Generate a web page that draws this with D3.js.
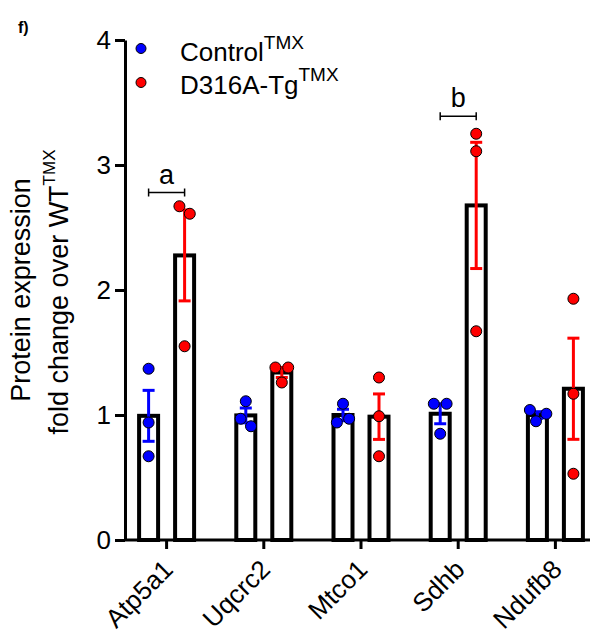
<!DOCTYPE html>
<html>
<head>
<meta charset="utf-8">
<script src="https://cdn.jsdelivr.net/npm/d3@7"></script>
<style>
  body { margin: 0; background: #fff; }
  svg { display: block; font-family: Arial, "Liberation Sans", sans-serif; }
</style>
</head>
<body>
<div id="chart"></div>
<script>
const categories = ['Atp5a1', 'Uqcrc2', 'Mtco1', 'Sdhb', 'Ndufb8'];
const groups = ['Control', 'D316A-Tg'];
const groupColors = ['#0000ff', '#ff0000'];

// individual replicates
const controlValues = [
  [1.37, 0.94, 0.67],
  [1.11, 0.97, 0.91],
  [1.09, 0.94, 0.97],
  [1.09, 1.09, 0.85],
  [1.04, 1.01, 0.95]
];
const tgValues = [
  [2.67, 2.61, 1.55],
  [1.38, 1.38, 1.26],
  [1.30, 0.99, 0.67],
  [3.25, 3.11, 1.67],
  [1.93, 1.17, 0.53]
];

const yTicks = [0, 1, 2, 3, 4];

const sigCategories = ['Atp5a1', 'Sdhb'];
const sigLabels = ['a', 'b'];
const sigLevels = [2.78, 3.39];

const width = 590;
const height = 637;
const axisX = 125;

const svg = d3.select('#chart')
  .append('svg')
  .attr('width', width)
  .attr('height', height);

const y = d3.scaleLinear().domain([0, 4]).range([540, 40]);
const x = d3.scaleBand().domain(categories).range([118, 604]);
const xg = d3.scaleBand().domain(groups).range([-36, 36]);
const centerX = (cat, group) => x(cat) + x.bandwidth() / 2 + xg(group) + xg.bandwidth() / 2;

const rows = categories.flatMap((cat, i) => [controlValues[i], tgValues[i]].map((values, g) => ({
  cat,
  group: groups[g],
  color: groupColors[g],
  values,
  mean: d3.mean(values),
  sem: d3.deviation(values) / Math.sqrt(values.length)
})));

// spread overlapping replicates sideways, like a scatter with dodge
function dodge(values, cx) {
  const nodes = values.map((v, i) => ({ v, x: cx + (i - 1) * 0.01, y: y(v), fy: y(v) }));
  d3.forceSimulation(nodes)
    .force('x', d3.forceX(cx).strength(0.08))
    .force('collide', d3.forceCollide(6.4))
    .stop()
    .tick(300);
  return nodes;
}

// bars
svg.append('g')
  .selectAll('rect')
  .data(rows)
  .join('rect')
  .attr('x', (d) => centerX(d.cat, d.group) - 9.5)
  .attr('width', 19)
  .attr('y', (d) => y(d.mean))
  .attr('height', (d) => y(0) - y(d.mean))
  .attr('fill', '#fff')
  .attr('stroke', '#000')
  .attr('stroke-width', 4);

// error bars (mean ± SEM)
const err = svg.append('g')
  .selectAll('g')
  .data(rows)
  .join('g')
  .attr('stroke', (d) => d.color)
  .attr('stroke-width', 3);

err.append('line')
  .attr('x1', (d) => centerX(d.cat, d.group))
  .attr('x2', (d) => centerX(d.cat, d.group))
  .attr('y1', (d) => y(d.mean + d.sem))
  .attr('y2', (d) => y(d.mean - d.sem));

[1, -1].forEach((sign) => {
  err.append('line')
    .attr('x1', (d) => centerX(d.cat, d.group) - 6)
    .attr('x2', (d) => centerX(d.cat, d.group) + 6)
    .attr('y1', (d) => y(d.mean + sign * d.sem))
    .attr('y2', (d) => y(d.mean + sign * d.sem));
});

// replicate points
const pointGroups = svg.append('g')
  .selectAll('g')
  .data(rows)
  .join('g')
  .attr('fill', (d) => d.color);

pointGroups.selectAll('circle')
  .data((d) => dodge(d.values, centerX(d.cat, d.group)))
  .join('circle')
  .attr('cx', (p) => p.x)
  .attr('cy', (p) => p.y)
  .attr('r', 5.5)
  .attr('stroke', '#000')
  .attr('stroke-width', 1);

// y axis
const yAxis = svg.append('g')
  .attr('transform', `translate(${axisX},0)`)
  .call(d3.axisLeft(y).tickValues(yTicks).tickFormat(d3.format('d')).tickSize(10).tickSizeOuter(0).tickPadding(4));

yAxis.select('.domain').attr('stroke-width', 3);
yAxis.selectAll('.tick line').attr('stroke-width', 3);
yAxis.selectAll('.tick text')
  .attr('font-size', 26)
  .attr('font-family', 'Arial, "Liberation Sans", sans-serif')
  .attr('fill', '#000');

// x axis
const xAxis = svg.append('g')
  .attr('transform', `translate(0,${y(0)})`)
  .call(d3.axisBottom(x).tickSize(9).tickSizeOuter(0).tickFormat(''));

xAxis.select('.domain').remove();
xAxis.selectAll('.tick line').attr('stroke-width', 3);
xAxis.append('line')
  .attr('x1', axisX)
  .attr('x2', width)
  .attr('stroke', '#000')
  .attr('stroke-width', 3);

svg.append('g')
  .selectAll('text')
  .data(categories)
  .join('text')
  .attr('transform', (d) => `translate(${x(d) + x.bandwidth() / 2 + 8},571) rotate(-45)`)
  .attr('text-anchor', 'end')
  .attr('font-size', 26)
  .text((d) => d);

// significance brackets
sigCategories.forEach((cat, i) => {
  const x1 = centerX(cat, groups[0]);
  const x2 = centerX(cat, groups[1]);
  const yy = y(sigLevels[i]);
  const g = svg.append('g').attr('stroke', '#000').attr('stroke-width', 1.5);
  g.append('line').attr('x1', x1).attr('x2', x2).attr('y1', yy).attr('y2', yy);
  g.append('line').attr('x1', x1).attr('x2', x1).attr('y1', yy - 4).attr('y2', yy + 4);
  g.append('line').attr('x1', x2).attr('x2', x2).attr('y1', yy - 4).attr('y2', yy + 4);
  svg.append('text')
    .attr('x', (x1 + x2) / 2)
    .attr('y', yy - 9)
    .attr('text-anchor', 'middle')
    .attr('font-size', 27)
    .text(sigLabels[i]);
});

// legend
const legend = svg.append('g');
groups.forEach((name, i) => {
  legend.append('circle')
    .attr('cx', 141)
    .attr('cy', 48.5 + i * 34)
    .attr('r', 5)
    .attr('fill', groupColors[i])
    .attr('stroke', '#000')
    .attr('stroke-width', 1);
  const t = legend.append('text')
    .attr('x', 180)
    .attr('y', 61 + i * 32.5)
    .attr('font-size', 26)
    .text(name);
  t.append('tspan')
    .attr('dy', -12.5)
    .attr('font-size', 19)
    .text('TMX');
});

// y title
svg.append('text')
  .attr('transform', 'translate(30,290) rotate(-90)')
  .attr('text-anchor', 'middle')
  .attr('font-size', 27)
  .text('Protein expression');

const yTitle2 = svg.append('text')
  .attr('transform', 'translate(68,292) rotate(-90)')
  .attr('text-anchor', 'middle')
  .attr('font-size', 27)
  .text('fold change over WT');
yTitle2.append('tspan')
  .attr('dy', -13)
  .attr('font-size', 17)
  .text('TMX');

// panel letter
svg.append('text')
  .attr('x', 18)
  .attr('y', 33)
  .attr('font-size', 16)
  .attr('font-weight', 'bold')
  .text('f)');
</script>
</body>
</html>
